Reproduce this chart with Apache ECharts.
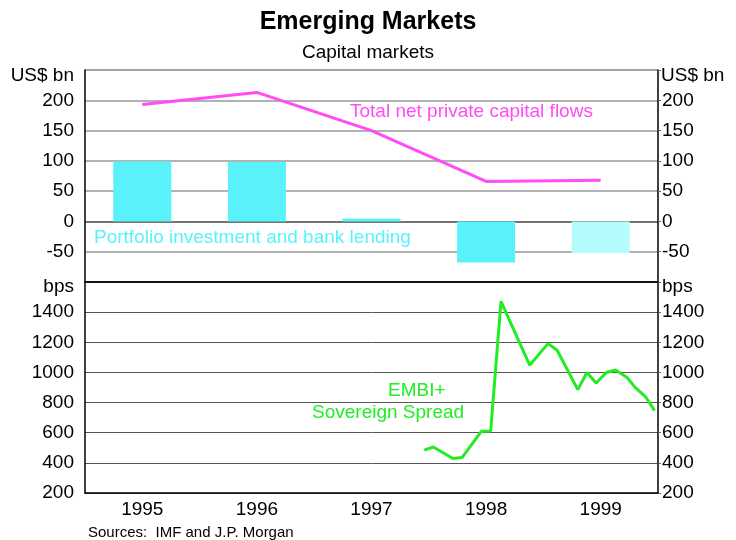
<!DOCTYPE html>
<html>
<head>
<meta charset="utf-8">
<script src="https://cdn.jsdelivr.net/npm/echarts@6/dist/echarts.min.js"></script>
<style>
  html, body { margin: 0; padding: 0; background: #fff; }
  #main { width: 736px; height: 540px; }
</style>
</head>
<body>
<div id="main"></div>
<script>
// categories for the top panel (annual)
var years = ['1995', '1996', '1997', '1998', '1999'];
// portfolio investment and bank lending, US$ bn
var portfolio = [99, 98, 5, -68, -52];
// total net private capital flows, US$ bn
var totalFlows = [193, 213, 150, 66, 68];
// EMBI+ sovereign spread, bps: [decimal year, value]
var embiDates = [1997.96, 1998.04, 1998.21, 1998.29, 1998.46, 1998.54, 1998.63, 1998.88,
  1999.04, 1999.12, 1999.30, 1999.38, 1999.46, 1999.55, 1999.63, 1999.73, 1999.80, 1999.89, 1999.97];
var embiValues = [484, 505, 429, 435, 610, 612, 1472, 1048,
  1191, 1147, 886, 1000, 930, 1000, 1016, 967, 901, 840, 747];

var myChart = echarts.init(document.getElementById('main'));
var font = 'Liberation Sans, Arial, sans-serif';
var fs = 19; // axis + annotation font size
var cyan = '#5af2fa';
var cyanLight = '#b2fcfc';
var magenta = '#ff4cf6';
var green = '#22ec22';

var barData = portfolio.map(function (v, i) {
  return {
    value: v,
    itemStyle: { color: i === portfolio.length - 1 ? cyanLight : cyan }
  };
});
var embiData = embiDates.map(function (d, i) { return [d, embiValues[i]]; });

var option = {
  animation: false,
  title: [
    {
      text: 'Emerging Markets',
      left: 'center', top: 5,
      textStyle: { fontFamily: font, fontSize: 25, fontWeight: 'bold', color: '#000' }
    },
    {
      text: 'Capital markets',
      left: 'center', top: 38,
      textStyle: { fontFamily: font, fontSize: fs, fontWeight: 'normal', color: '#000' }
    }
  ],
  grid: [
    { left: 85, right: 78, top: 70, height: 212 },
    { left: 85, right: 78, top: 282, bottom: 47 }
  ],
  xAxis: [
    {
      type: 'category', gridIndex: 0, data: years,
      axisLine: { show: false }, axisTick: { show: false }, axisLabel: { show: false }
    },
    {
      type: 'category', gridIndex: 1, data: years, position: 'bottom',
      axisLine: { lineStyle: { color: '#000', width: 1.5 } },
      axisTick: { inside: true, length: 7, lineStyle: { color: '#000' } },
      axisLabel: { fontFamily: font, fontSize: fs, color: '#000', margin: 7 }
    },
    {
      type: 'value', gridIndex: 1, min: 1995, max: 2000, position: 'top',
      axisLine: { show: true, lineStyle: { color: '#000', width: 1.5 } },
      axisTick: { show: false }, axisLabel: { show: false }, splitLine: { show: false }
    }
  ],
  yAxis: [
    {
      type: 'value', gridIndex: 0, min: -100, max: 250, interval: 50, position: 'left',
      axisLine: { show: true, lineStyle: { color: '#000', width: 1.5 } },
      axisTick: { show: false },
      axisLabel: {
        fontFamily: font, fontSize: fs, color: '#000', margin: 11,
        formatter: function (v) { return (v === -100 || v === 250) ? '' : v; }
      },
      splitLine: {
        lineStyle: {
          color: ['#000', '#999', '#444', '#999', '#999', '#999', '#999', '#888'],
          width: 1.5
        }
      }
    },
    {
      type: 'value', gridIndex: 0, min: -100, max: 250, interval: 50, position: 'right',
      axisLine: { show: true, lineStyle: { color: '#000', width: 1.5 } },
      axisTick: { show: true, length: 3, lineStyle: { color: '#666' } },
      axisLabel: {
        fontFamily: font, fontSize: fs, color: '#000', margin: 4,
        formatter: function (v) { return (v === -100 || v === 250) ? '' : v; }
      },
      splitLine: { show: false }
    },
    {
      type: 'value', gridIndex: 1, min: 200, max: 1600, interval: 200, position: 'left',
      axisLine: { show: true, lineStyle: { color: '#000', width: 1.5 } },
      axisTick: { show: false },
      axisLabel: {
        fontFamily: font, fontSize: fs, color: '#000', margin: 11,
        formatter: function (v) { return v === 1600 ? '' : v; }
      },
      splitLine: { lineStyle: { color: '#555', width: 1 } }
    },
    {
      type: 'value', gridIndex: 1, min: 200, max: 1600, interval: 200, position: 'right',
      axisLine: { show: true, lineStyle: { color: '#000', width: 1.5 } },
      axisTick: { show: true, length: 3, lineStyle: { color: '#666' } },
      axisLabel: {
        fontFamily: font, fontSize: fs, color: '#000', margin: 4,
        formatter: function (v) { return v === 1600 ? '' : v; }
      },
      splitLine: { show: false }
    }
  ],
  series: [
    {
      name: 'Portfolio investment and bank lending',
      type: 'bar', xAxisIndex: 0, yAxisIndex: 0,
      barWidth: 58, data: barData, z: 3
    },
    {
      name: 'Total net private capital flows',
      type: 'line', xAxisIndex: 0, yAxisIndex: 0,
      data: totalFlows, showSymbol: false,
      lineStyle: { color: magenta, width: 3 }, z: 4
    },
    {
      name: 'EMBI+ Sovereign Spread',
      type: 'line', xAxisIndex: 2, yAxisIndex: 2,
      data: embiData, showSymbol: false,
      lineStyle: { color: green, width: 3 }, z: 4
    }
  ],
  graphic: [
    { type: 'text', right: 662, top: 66, style: { text: 'US$ bn', font: fs + 'px ' + font, fill: '#000' } },
    { type: 'text', left: 661, top: 66, style: { text: 'US$ bn', font: fs + 'px ' + font, fill: '#000' } },
    { type: 'text', right: 662, top: 277, style: { text: 'bps', font: fs + 'px ' + font, fill: '#000' } },
    { type: 'text', left: 662, top: 277, style: { text: 'bps', font: fs + 'px ' + font, fill: '#000' } },
    { type: 'text', left: 350, top: 102, style: { text: 'Total net private capital flows', font: fs + 'px ' + font, fill: magenta } },
    { type: 'text', left: 94, top: 228, style: { text: 'Portfolio investment and bank lending', font: fs + 'px ' + font, fill: cyan } },
    { type: 'text', left: 388, top: 381, style: { text: 'EMBI+', font: fs + 'px ' + font, fill: green, align: 'center' } },
    { type: 'text', left: 312, top: 403, style: { text: 'Sovereign Spread', font: fs + 'px ' + font, fill: green } },
    { type: 'text', left: 88, top: 525, style: { text: 'Sources:  IMF and J.P. Morgan', font: '15px ' + font, fill: '#000' } }
  ]
};

myChart.setOption(option);
</script>
</body>
</html>
